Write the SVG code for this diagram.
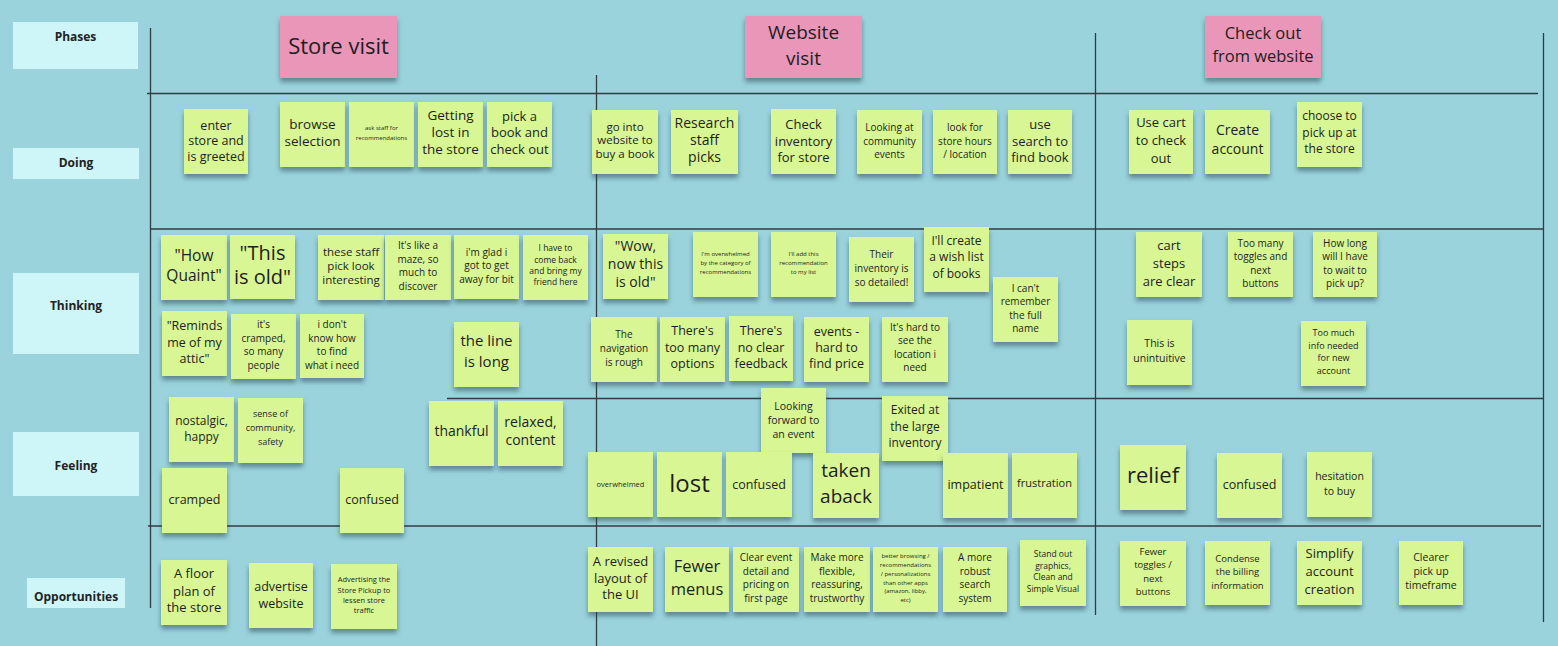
<svg xmlns="http://www.w3.org/2000/svg" width="1558" height="646" viewBox="0 0 1558 646">
<defs>
<filter id="sh" x="-20%" y="-20%" width="140%" height="150%">
<feDropShadow dx="0" dy="4" stdDeviation="2.5" flood-color="#2b4a52" flood-opacity="0.55"/>
</filter>
<style>
.bg{fill:#9BD3DC}
.lbl{fill:#CEF6F9}
.lt{font-family:"Open Sans","Noto Sans",sans-serif;font-weight:bold;font-size:12px;fill:#222;text-anchor:middle}
.ph{fill:#E996B9;filter:url(#sh)}
.n{fill:#D8F693;filter:url(#sh)}
.t{font-family:"Open Sans","Noto Sans",sans-serif;fill:#1e1e1e;text-anchor:middle}
.ln{stroke:#2f3d42;stroke-width:1.3;fill:none}
</style>
</defs>
<rect class="bg" x="0" y="0" width="1558" height="646"/>

<g id="grid">
<line class="ln" x1="150.5" y1="28" x2="150.5" y2="608"/>
<line class="ln" x1="596.5" y1="75" x2="596.5" y2="646"/>
<line class="ln" x1="1095.5" y1="33" x2="1095.5" y2="615"/>
<line class="ln" x1="1543.5" y1="33" x2="1543.5" y2="622"/>
<line class="ln" x1="147" y1="93.5" x2="1538" y2="93.5"/>
<line class="ln" x1="150" y1="229" x2="1543" y2="229"/>
<line class="ln" x1="447" y1="398.5" x2="1543" y2="398.5"/>
<line class="ln" x1="148" y1="526" x2="1541" y2="526"/>
</g>

<g id="row-labels">
<g id="lbl-phases"><rect class="lbl" x="13" y="22" width="125" height="47"/><text class="lt" x="75.5" y="41">Phases</text></g>
<g id="lbl-doing"><rect class="lbl" x="13" y="148" width="126" height="31"/><text class="lt" x="76" y="167">Doing</text></g>
<g id="lbl-thinking"><rect class="lbl" x="13" y="273" width="126" height="81"/><text class="lt" x="76" y="310">Thinking</text></g>
<g id="lbl-feeling"><rect class="lbl" x="13" y="432" width="126" height="64"/><text class="lt" x="76" y="470">Feeling</text></g>
<g id="lbl-opps"><rect class="lbl" x="27" y="578" width="98" height="30"/><text class="lt" x="76" y="601">Opportunities</text></g>
</g>

<g id="phases">
<g id="ph-store"><rect class="ph" x="280" y="16" width="117" height="62"/><text class="t" font-size="22"><tspan x="338.5" y="54">Store visit</tspan></text></g>
<g id="ph-web"><rect class="ph" x="745" y="16" width="117" height="62"/><text class="t" font-size="19"><tspan x="803.5" y="39">Website</tspan><tspan x="803.5" y="65">visit</tspan></text></g>
<g id="ph-checkout"><rect class="ph" x="1205" y="16" width="116" height="62"/><text class="t" font-size="16.5"><tspan x="1263" y="39">Check out</tspan><tspan x="1263" y="62">from website</tspan></text></g>
</g>

<g id="doing">
<g id="d1"><rect class="n" x="184" y="109" width="64" height="65"/><text class="t" font-size="12.5"><tspan x="216" y="129.5">enter</tspan><tspan x="216" y="144.5">store and</tspan><tspan x="216" y="160.5">is greeted</tspan></text></g>
<g id="d2"><rect class="n" x="280" y="102" width="65" height="65"/><text class="t" font-size="13.5"><tspan x="312.5" y="129">browse</tspan><tspan x="312.5" y="146">selection</tspan></text></g>
<g id="d3"><rect class="n" x="349" y="102" width="65" height="65"/><text class="t" font-size="6"><tspan x="381.5" y="130">ask staff for</tspan><tspan x="381.5" y="140">recommendations</tspan></text></g>
<g id="d4"><rect class="n" x="418" y="102" width="65" height="65"/><text class="t" font-size="13.5"><tspan x="450.5" y="120">Getting</tspan><tspan x="450.5" y="137">lost in</tspan><tspan x="450.5" y="154">the store</tspan></text></g>
<g id="d5"><rect class="n" x="487" y="102" width="65" height="65"/><text class="t" font-size="13"><tspan x="519.5" y="120.5">pick a</tspan><tspan x="519.5" y="136.5">book and</tspan><tspan x="519.5" y="153.5">check out</tspan></text></g>
<g id="d6"><rect class="n" x="592" y="110" width="66" height="64"/><text class="t" font-size="11.5"><tspan x="625" y="131">go into</tspan><tspan x="625" y="144">website to</tspan><tspan x="625" y="158">buy a book</tspan></text></g>
<g id="d7"><rect class="n" x="671" y="110" width="67" height="64"/><text class="t" font-size="14"><tspan x="704.5" y="128">Research</tspan><tspan x="704.5" y="145">staff</tspan><tspan x="704.5" y="162">picks</tspan></text></g>
<g id="d8"><rect class="n" x="771" y="109" width="65" height="65"/><text class="t" font-size="13"><tspan x="803.5" y="128.5">Check</tspan><tspan x="803.5" y="145.5">inventory</tspan><tspan x="803.5" y="161.5">for store</tspan></text></g>
<g id="d9"><rect class="n" x="857" y="110" width="65" height="64"/><text class="t" font-size="10"><tspan x="889.5" y="130.5">Looking at</tspan><tspan x="889.5" y="144.5">community</tspan><tspan x="889.5" y="157.5">events</tspan></text></g>
<g id="d10"><rect class="n" x="933" y="110" width="64" height="64"/><text class="t" font-size="10"><tspan x="965" y="130.5">look for</tspan><tspan x="965" y="144.5">store hours</tspan><tspan x="965" y="157.5">/ location</tspan></text></g>
<g id="d11"><rect class="n" x="1008" y="110" width="64" height="64"/><text class="t" font-size="13"><tspan x="1040" y="128.5">use</tspan><tspan x="1040" y="145.5">search to</tspan><tspan x="1040" y="161.5">find book</tspan></text></g>
<g id="d12"><rect class="n" x="1129" y="110" width="64" height="64"/><text class="t" font-size="13"><tspan x="1161" y="126.5">Use cart</tspan><tspan x="1161" y="144.5">to check</tspan><tspan x="1161" y="162.5">out</tspan></text></g>
<g id="d13"><rect class="n" x="1205" y="110" width="65" height="64"/><text class="t" font-size="14"><tspan x="1237.5" y="135">Create</tspan><tspan x="1237.5" y="154">account</tspan></text></g>
<g id="d14"><rect class="n" x="1297" y="102" width="65" height="65"/><text class="t" font-size="12"><tspan x="1329.5" y="120">choose to</tspan><tspan x="1329.5" y="137">pick up at</tspan><tspan x="1329.5" y="153">the store</tspan></text></g>
</g>

<g id="thinking">
<g id="t1"><rect class="n" x="161" y="235" width="66" height="65"/><text class="t" font-size="15.5"><tspan x="194" y="260.5">"How</tspan><tspan x="194" y="280.5">Quaint"</tspan></text></g>
<g id="t2"><rect class="n" x="230" y="235" width="65" height="64"/><text class="t" font-size="20"><tspan x="262.5" y="260">"This</tspan><tspan x="262.5" y="284">is old"</tspan></text></g>
<g id="t3"><rect class="n" x="318" y="235" width="66" height="65"/><text class="t" font-size="11.5"><tspan x="351" y="256">these staff</tspan><tspan x="351" y="270">pick look</tspan><tspan x="351" y="284">interesting</tspan></text></g>
<g id="t4"><rect class="n" x="385" y="235" width="66" height="65"/><text class="t" font-size="10"><tspan x="418" y="248.5">It's like a</tspan><tspan x="418" y="262.5">maze, so</tspan><tspan x="418" y="275.5">much to</tspan><tspan x="418" y="289.5">discover</tspan></text></g>
<g id="t5"><rect class="n" x="454" y="235" width="65" height="64"/><text class="t" font-size="10"><tspan x="486.5" y="255.5">i'm glad i</tspan><tspan x="486.5" y="268.5">got to get</tspan><tspan x="486.5" y="282.5">away for bit</tspan></text></g>
<g id="t6"><rect class="n" x="523" y="235" width="65" height="65"/><text class="t" font-size="8.5"><tspan x="555.5" y="251">I have to</tspan><tspan x="555.5" y="263">come back</tspan><tspan x="555.5" y="274">and bring my</tspan><tspan x="555.5" y="285">friend here</tspan></text></g>
<g id="t7"><rect class="n" x="162" y="311" width="65" height="65"/><text class="t" font-size="12.5"><tspan x="194.5" y="329.5">"Reminds</tspan><tspan x="194.5" y="346.5">me of my</tspan><tspan x="194.5" y="362.5">attic"</tspan></text></g>
<g id="t8"><rect class="n" x="231" y="314" width="65" height="65"/><text class="t" font-size="10"><tspan x="263.5" y="327.5">it's</tspan><tspan x="263.5" y="341.5">cramped,</tspan><tspan x="263.5" y="354.5">so many</tspan><tspan x="263.5" y="368.5">people</tspan></text></g>
<g id="t9"><rect class="n" x="300" y="314" width="64" height="64"/><text class="t" font-size="10"><tspan x="332" y="327.5">i don't</tspan><tspan x="332" y="341.5">know how</tspan><tspan x="332" y="354.5">to find</tspan><tspan x="332" y="368.5">what i need</tspan></text></g>
<g id="t10"><rect class="n" x="454" y="322" width="65" height="65"/><text class="t" font-size="15"><tspan x="486.5" y="346">the line</tspan><tspan x="486.5" y="367">is long</tspan></text></g>
<g id="t11"><rect class="n" x="603" y="234" width="65" height="65"/><text class="t" font-size="14"><tspan x="635.5" y="251">"Wow,</tspan><tspan x="635.5" y="269">now this</tspan><tspan x="635.5" y="287">is old"</tspan></text></g>
<g id="t12"><rect class="n" x="693" y="232" width="65" height="65"/><text class="t" font-size="6"><tspan x="725.5" y="256">I'm overwhelmed</tspan><tspan x="725.5" y="265">by the category of</tspan><tspan x="725.5" y="274">recommendations</tspan></text></g>
<g id="t13"><rect class="n" x="771" y="232" width="65" height="65"/><text class="t" font-size="6"><tspan x="803.5" y="256">I'll add this</tspan><tspan x="803.5" y="265">recommendation</tspan><tspan x="803.5" y="274">to my list</tspan></text></g>
<g id="t14"><rect class="n" x="849" y="237" width="65" height="65"/><text class="t" font-size="10"><tspan x="881.5" y="257.5">Their</tspan><tspan x="881.5" y="271.5">inventory is</tspan><tspan x="881.5" y="285.5">so detailed!</tspan></text></g>
<g id="t15"><rect class="n" x="924" y="227" width="65" height="65"/><text class="t" font-size="12"><tspan x="956.5" y="245">I'll create</tspan><tspan x="956.5" y="261">a wish list</tspan><tspan x="956.5" y="278">of books</tspan></text></g>
<g id="t16"><rect class="n" x="993" y="277" width="65" height="65"/><text class="t" font-size="10"><tspan x="1025.5" y="291.5">I can't</tspan><tspan x="1025.5" y="304.5">remember</tspan><tspan x="1025.5" y="318.5">the full</tspan><tspan x="1025.5" y="331.5">name</tspan></text></g>
<g id="t17"><rect class="n" x="591" y="317" width="66" height="65"/><text class="t" font-size="10"><tspan x="624" y="337.5">The</tspan><tspan x="624" y="351.5">navigation</tspan><tspan x="624" y="365.5">is rough</tspan></text></g>
<g id="t18"><rect class="n" x="660" y="317" width="65" height="65"/><text class="t" font-size="12.5"><tspan x="692.5" y="334.5">There's</tspan><tspan x="692.5" y="351.5">too many</tspan><tspan x="692.5" y="367.5">options</tspan></text></g>
<g id="t19"><rect class="n" x="729" y="316" width="64" height="65"/><text class="t" font-size="12.5"><tspan x="761" y="334.5">There's</tspan><tspan x="761" y="351.5">no clear</tspan><tspan x="761" y="367.5">feedback</tspan></text></g>
<g id="t20"><rect class="n" x="804" y="317" width="65" height="65"/><text class="t" font-size="12.5"><tspan x="836.5" y="335.5">events -</tspan><tspan x="836.5" y="351.5">hard to</tspan><tspan x="836.5" y="367.5">find price</tspan></text></g>
<g id="t21"><rect class="n" x="882" y="317" width="66" height="65"/><text class="t" font-size="10"><tspan x="915" y="330.5">It's hard to</tspan><tspan x="915" y="343.5">see the</tspan><tspan x="915" y="357.5">location i</tspan><tspan x="915" y="370.5">need</tspan></text></g>
<g id="t22"><rect class="n" x="1136" y="232" width="66" height="65"/><text class="t" font-size="13"><tspan x="1169" y="249.5">cart</tspan><tspan x="1169" y="267.5">steps</tspan><tspan x="1169" y="285.5">are clear</tspan></text></g>
<g id="t23"><rect class="n" x="1228" y="232" width="65" height="65"/><text class="t" font-size="10"><tspan x="1260.5" y="246.5">Too many</tspan><tspan x="1260.5" y="259.5">toggles and</tspan><tspan x="1260.5" y="273.5">next</tspan><tspan x="1260.5" y="286.5">buttons</tspan></text></g>
<g id="t24"><rect class="n" x="1313" y="232" width="64" height="65"/><text class="t" font-size="10"><tspan x="1345" y="246.5">How long</tspan><tspan x="1345" y="259.5">will I have</tspan><tspan x="1345" y="273.5">to wait to</tspan><tspan x="1345" y="286.5">pick up?</tspan></text></g>
<g id="t25"><rect class="n" x="1127" y="320" width="65" height="65"/><text class="t" font-size="10.5"><tspan x="1159.5" y="346.5">This is</tspan><tspan x="1159.5" y="361.5">unintuitive</tspan></text></g>
<g id="t26"><rect class="n" x="1301" y="321" width="65" height="65"/><text class="t" font-size="9"><tspan x="1333.5" y="336">Too much</tspan><tspan x="1333.5" y="349">info needed</tspan><tspan x="1333.5" y="361">for new</tspan><tspan x="1333.5" y="374">account</tspan></text></g>
</g>

<g id="feeling">
<g id="f1"><rect class="n" x="169" y="397" width="65" height="65"/><text class="t" font-size="12"><tspan x="201.5" y="425">nostalgic,</tspan><tspan x="201.5" y="441">happy</tspan></text></g>
<g id="f2"><rect class="n" x="238" y="398" width="65" height="65"/><text class="t" font-size="9"><tspan x="270.5" y="417">sense of</tspan><tspan x="270.5" y="431">community,</tspan><tspan x="270.5" y="445">safety</tspan></text></g>
<g id="f3"><rect class="n" x="429" y="401" width="65" height="65"/><text class="t" font-size="14"><tspan x="461.5" y="436">thankful</tspan></text></g>
<g id="f4"><rect class="n" x="498" y="401" width="65" height="65"/><text class="t" font-size="14"><tspan x="530.5" y="427">relaxed,</tspan><tspan x="530.5" y="445">content</tspan></text></g>
<g id="f5"><rect class="n" x="162" y="468" width="65" height="65"/><text class="t" font-size="12.5"><tspan x="194.5" y="503.5">cramped</tspan></text></g>
<g id="f6"><rect class="n" x="340" y="468" width="64" height="65"/><text class="t" font-size="12.5"><tspan x="372" y="503.5">confused</tspan></text></g>
<g id="f7"><rect class="n" x="761" y="388" width="65" height="65"/><text class="t" font-size="10.5"><tspan x="793.5" y="409.5">Looking</tspan><tspan x="793.5" y="423.5">forward to</tspan><tspan x="793.5" y="437.5">an event</tspan></text></g>
<g id="f8"><rect class="n" x="882" y="396" width="66" height="65"/><text class="t" font-size="12"><tspan x="915" y="414">Exited at</tspan><tspan x="915" y="431">the large</tspan><tspan x="915" y="447">inventory</tspan></text></g>
<g id="f9"><rect class="n" x="588" y="452" width="65" height="65"/><text class="t" font-size="7.5"><tspan x="620.5" y="486.5">overwhelmed</tspan></text></g>
<g id="f10"><rect class="n" x="657" y="452" width="65" height="65"/><text class="t" font-size="24"><tspan x="689.5" y="491.5">lost</tspan></text></g>
<g id="f11"><rect class="n" x="726" y="452" width="66" height="65"/><text class="t" font-size="12.5"><tspan x="759" y="488.5">confused</tspan></text></g>
<g id="f12"><rect class="n" x="813" y="453" width="66" height="65"/><text class="t" font-size="19"><tspan x="846" y="476.5">taken</tspan><tspan x="846" y="502.5">aback</tspan></text></g>
<g id="f13"><rect class="n" x="943" y="453" width="65" height="65"/><text class="t" font-size="12.5"><tspan x="975.5" y="488.5">impatient</tspan></text></g>
<g id="f14"><rect class="n" x="1012" y="453" width="65" height="65"/><text class="t" font-size="11"><tspan x="1044.5" y="487">frustration</tspan></text></g>
<g id="f15"><rect class="n" x="1120" y="445" width="66" height="65"/><text class="t" font-size="22"><tspan x="1153" y="483">relief</tspan></text></g>
<g id="f16"><rect class="n" x="1217" y="453" width="65" height="65"/><text class="t" font-size="12.5"><tspan x="1249.5" y="488.5">confused</tspan></text></g>
<g id="f17"><rect class="n" x="1307" y="452" width="65" height="65"/><text class="t" font-size="10.5"><tspan x="1339.5" y="479.5">hesitation</tspan><tspan x="1339.5" y="494.5">to buy</tspan></text></g>
</g>

<g id="opportunities">
<g id="o1"><rect class="n" x="161" y="560" width="66" height="65"/><text class="t" font-size="13"><tspan x="194" y="577.5">A floor</tspan><tspan x="194" y="595.5">plan of</tspan><tspan x="194" y="611.5">the store</tspan></text></g>
<g id="o2"><rect class="n" x="249" y="563" width="64" height="65"/><text class="t" font-size="12.5"><tspan x="281" y="590.5">advertise</tspan><tspan x="281" y="607.5">website</tspan></text></g>
<g id="o3"><rect class="n" x="331" y="564" width="66" height="65"/><text class="t" font-size="7.5"><tspan x="364" y="581.5">Advertising the</tspan><tspan x="364" y="592.5">Store Pickup to</tspan><tspan x="364" y="602.5">lessen store</tspan><tspan x="364" y="612.5">traffic</tspan></text></g>
<g id="o4"><rect class="n" x="588" y="547" width="65" height="65"/><text class="t" font-size="13"><tspan x="620.5" y="565.5">A revised</tspan><tspan x="620.5" y="582.5">layout of</tspan><tspan x="620.5" y="598.5">the UI</tspan></text></g>
<g id="o5"><rect class="n" x="665" y="547" width="64" height="65"/><text class="t" font-size="16.5"><tspan x="697" y="572">Fewer</tspan><tspan x="697" y="595">menus</tspan></text></g>
<g id="o6"><rect class="n" x="733" y="547" width="66" height="65"/><text class="t" font-size="10"><tspan x="766" y="560.5">Clear event</tspan><tspan x="766" y="574.5">detail and</tspan><tspan x="766" y="587.5">pricing on</tspan><tspan x="766" y="601.5">first page</tspan></text></g>
<g id="o7"><rect class="n" x="804" y="547" width="66" height="65"/><text class="t" font-size="10"><tspan x="837" y="560.5">Make more</tspan><tspan x="837" y="574.5">flexible,</tspan><tspan x="837" y="587.5">reassuring,</tspan><tspan x="837" y="601.5">trustworthy</tspan></text></g>
<g id="o8"><rect class="n" x="873" y="547" width="65" height="65"/><text class="t" font-size="6"><tspan x="905.5" y="558">better browsing /</tspan><tspan x="905.5" y="566.5">recommendations</tspan><tspan x="905.5" y="576">/ personalizations</tspan><tspan x="905.5" y="584.5">than other apps</tspan><tspan x="905.5" y="593">(amazon, libby,</tspan><tspan x="905.5" y="602">etc)</tspan></text></g>
<g id="o9"><rect class="n" x="943" y="547" width="64" height="65"/><text class="t" font-size="10"><tspan x="975" y="560.5">A more</tspan><tspan x="975" y="574.5">robust</tspan><tspan x="975" y="587.5">search</tspan><tspan x="975" y="601.5">system</tspan></text></g>
<g id="o10"><rect class="n" x="1020" y="540" width="66" height="66"/><text class="t" font-size="8.5"><tspan x="1053" y="557">Stand out</tspan><tspan x="1053" y="569">graphics,</tspan><tspan x="1053" y="580">Clean and</tspan><tspan x="1053" y="592">Simple Visual</tspan></text></g>
<g id="o11"><rect class="n" x="1120" y="541" width="66" height="65"/><text class="t" font-size="9.5"><tspan x="1153" y="554.5">Fewer</tspan><tspan x="1153" y="567.5">toggles /</tspan><tspan x="1153" y="581.5">next</tspan><tspan x="1153" y="594.5">buttons</tspan></text></g>
<g id="o12"><rect class="n" x="1205" y="541" width="65" height="64"/><text class="t" font-size="9.5"><tspan x="1237.5" y="561.5">Condense</tspan><tspan x="1237.5" y="574.5">the billing</tspan><tspan x="1237.5" y="588.5">information</tspan></text></g>
<g id="o13"><rect class="n" x="1297" y="541" width="65" height="64"/><text class="t" font-size="13"><tspan x="1329.5" y="557.5">Simplify</tspan><tspan x="1329.5" y="575.5">account</tspan><tspan x="1329.5" y="593.5">creation</tspan></text></g>
<g id="o14"><rect class="n" x="1399" y="541" width="64" height="64"/><text class="t" font-size="10.5"><tspan x="1431" y="560.5">Clearer</tspan><tspan x="1431" y="574.5">pick up</tspan><tspan x="1431" y="588.5">timeframe</tspan></text></g>
</g>
</svg>
